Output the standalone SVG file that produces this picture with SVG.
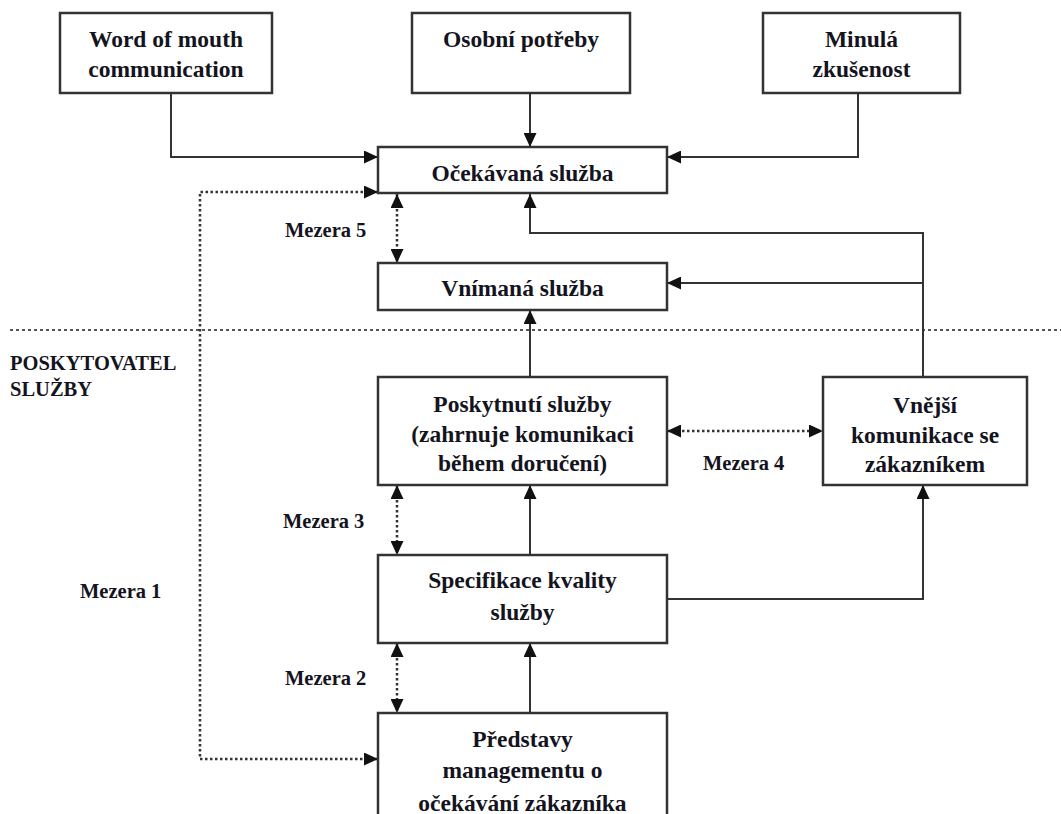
<svg xmlns="http://www.w3.org/2000/svg" width="1061" height="814" viewBox="0 0 1061 814">
<style>
.box{fill:#fff;stroke:#333;stroke-width:2.5}
.t{font-family:"Liberation Serif","Times New Roman",serif;font-weight:bold;font-size:23.5px;fill:#141420;text-anchor:middle}
.lbl{font-family:"Liberation Serif","Times New Roman",serif;font-weight:bold;font-size:20.5px;fill:#141420}
.ln{fill:none;stroke:#333;stroke-width:2}
.dot{fill:none;stroke:#333;stroke-width:2.5;stroke-dasharray:2.5 2.5}
.sep{fill:none;stroke:#555;stroke-width:2;stroke-dasharray:3 3}
</style>
<defs>
<marker id="ah" viewBox="0 0 14 13" refX="14" refY="6.5" markerWidth="14" markerHeight="13" markerUnits="userSpaceOnUse" orient="auto-start-reverse">
<path d="M0,0 L14,6.5 L0,13 Z" fill="#111"/>
</marker>
</defs>
<rect width="1061" height="814" fill="#fff"/>
<path class="sep" d="M10,330 H1061"/>
<g id="connectors">
<path class="ln" marker-end="url(#ah)" d="M171,93 V157 H378"/>
<path class="ln" marker-end="url(#ah)" d="M530,93 V147"/>
<path class="ln" marker-end="url(#ah)" d="M858,93 V157 H667"/>
<path class="dot" marker-start="url(#ah)" marker-end="url(#ah)" d="M378,192 H200 V759 H378"/>
<path class="dot" marker-start="url(#ah)" marker-end="url(#ah)" d="M397,194 V263"/>
<path class="ln" marker-end="url(#ah)" d="M923,377 V233 H530 V194"/>
<path class="ln" marker-end="url(#ah)" d="M923,283 H667"/>
<path class="ln" marker-end="url(#ah)" d="M530,377 V310"/>
<path class="dot" marker-start="url(#ah)" marker-end="url(#ah)" d="M667,431 H823"/>
<path class="ln" marker-end="url(#ah)" d="M530,555 V485"/>
<path class="dot" marker-start="url(#ah)" marker-end="url(#ah)" d="M397,485 V555"/>
<path class="ln" marker-end="url(#ah)" d="M667,599 H923 V485"/>
<path class="ln" marker-end="url(#ah)" d="M530,713 V643"/>
<path class="dot" marker-start="url(#ah)" marker-end="url(#ah)" d="M397,643 V713"/>
</g>
<g id="word-of-mouth">
<rect class="box" x="60" y="13" width="212" height="80"/>
<text class="t" x="166" y="47">Word of mouth</text>
<text class="t" x="166" y="77">communication</text>
</g>
<g id="osobni-potreby">
<rect class="box" x="412" y="13" width="218" height="80"/>
<text class="t" x="521" y="47">Osobní potřeby</text>
</g>
<g id="minula-zkusenost">
<rect class="box" x="763" y="13" width="197" height="80"/>
<text class="t" x="861.5" y="47">Minulá</text>
<text class="t" x="861.5" y="77">zkušenost</text>
</g>
<g id="ocekavana-sluzba">
<rect class="box" x="378" y="147" width="289" height="46"/>
<text class="t" x="522.5" y="181">Očekávaná služba</text>
</g>
<g id="vnimana-sluzba">
<rect class="box" x="378" y="263" width="289" height="47"/>
<text class="t" x="522.5" y="296">Vnímaná služba</text>
</g>
<g id="poskytnuti-sluzby">
<rect class="box" x="378" y="377" width="289" height="108"/>
<text class="t" x="522.5" y="412">Poskytnutí služby</text>
<text class="t" x="522.5" y="442">(zahrnuje komunikaci</text>
<text class="t" x="522.5" y="471">během doručení)</text>
</g>
<g id="vnejsi-komunikace">
<rect class="box" x="823" y="377" width="204" height="108"/>
<text class="t" x="925" y="413">Vnější</text>
<text class="t" x="925" y="443">komunikace se</text>
<text class="t" x="925" y="472">zákazníkem</text>
</g>
<g id="specifikace-kvality">
<rect class="box" x="378" y="555" width="289" height="88"/>
<text class="t" x="522.5" y="588">Specifikace kvality</text>
<text class="t" x="522.5" y="620">služby</text>
</g>
<g id="predstavy-managementu">
<rect class="box" x="378" y="713" width="289" height="130"/>
<text class="t" x="522.5" y="747">Představy</text>
<text class="t" x="522.5" y="778">managementu o</text>
<text class="t" x="522.5" y="811">očekávání zákazníka</text>
</g>
<g id="labels">
<text class="lbl" x="10" y="370">POSKYTOVATEL</text>
<text class="lbl" x="10" y="396">SLUŽBY</text>
<text class="lbl" x="285" y="237">Mezera 5</text>
<text class="lbl" x="703" y="470">Mezera 4</text>
<text class="lbl" x="283" y="528">Mezera 3</text>
<text class="lbl" x="285" y="685">Mezera 2</text>
<text class="lbl" x="80" y="598">Mezera 1</text>
</g>
</svg>
